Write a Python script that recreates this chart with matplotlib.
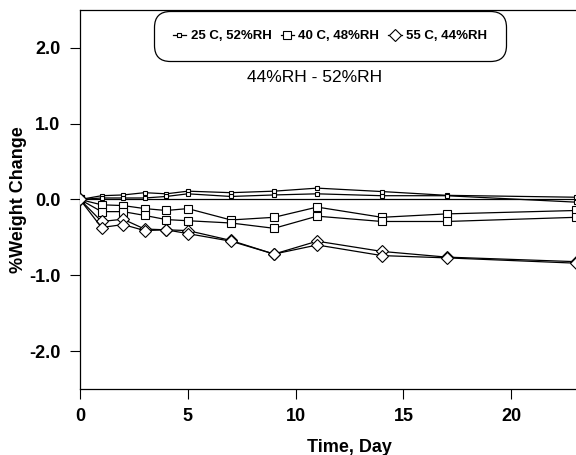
import numpy as np
import matplotlib
matplotlib.use('Agg')
import matplotlib.pyplot as plt

plt.rcParams['font.family'] = ['Liberation Sans', 'DejaVu Sans']

days = [0, 1, 2, 3, 4, 5, 7, 9, 11, 14, 17, 23]

# 25 C, 52%RH (two samples)
c25_a = [0, 0.05, 0.06, 0.09, 0.075, 0.11, 0.09, 0.11, 0.15, 0.105, 0.055, 0.03]
c25_b = [0, 0.02, 0.02, 0.02, 0.04, 0.075, 0.04, 0.06, 0.075, 0.05, 0.05, -0.035]
# 40 C, 48%RH
c40_a = [0, -0.07, -0.08, -0.12, -0.145, -0.12, -0.27, -0.235, -0.10, -0.235, -0.19, -0.145]
c40_b = [0, -0.16, -0.16, -0.21, -0.265, -0.28, -0.31, -0.38, -0.22, -0.29, -0.29, -0.235]
# 55 C, 44%RH
c55_a = [0, -0.29, -0.26, -0.39, -0.40, -0.41, -0.54, -0.72, -0.55, -0.685, -0.76, -0.82]
c55_b = [0, -0.37, -0.33, -0.41, -0.40, -0.45, -0.55, -0.72, -0.60, -0.74, -0.77, -0.84]

labels = ['25 C, 52%RH', '40 C, 48%RH', '55 C, 44%RH']
yticks = [-2.0, -1.0, 0.0, 1.0, 2.0]
xticks = [0, 5, 10, 15, 20]

fig = plt.figure(figsize=(5.76, 4.55), dpi=100)
ax = fig.add_axes([80/576, 66/455, 539/576, 379/455])

ax.axhline(0, color='black', lw=0.9, zorder=1)

mk = dict(color='black', lw=0.9, mfc='white', mec='black', mew=0.8, zorder=3)
ax.plot(days, c25_a, marker='s', ms=3.2, label=labels[0], **mk)
ax.plot(days, c25_b, marker='s', ms=3.2, **mk)
ax.plot(days, c40_a, marker='s', ms=5.5, label=labels[1], **mk)
ax.plot(days, c40_b, marker='s', ms=5.5, **mk)
ax.plot(days, c55_a, marker='D', ms=6, label=labels[2], **mk)
ax.plot(days, c55_b, marker='D', ms=6, **mk)

ax.set_xlim(0, 25)
ax.set_ylim(-2.5, 2.5)
ax.set_xticks(xticks)
ax.set_yticks(yticks)
ax.set_yticklabels(['%.1f' % v for v in yticks])
ax.tick_params(direction='out', length=7, width=0.8, labelsize=13, pad=7)
for lab in ax.get_xticklabels() + ax.get_yticklabels():
    lab.set_fontweight('bold')
ax.spines['right'].set_visible(False)
for s in ['left', 'bottom', 'top']:
    ax.spines[s].set_linewidth(0.9)

ax.set_xlabel('Time, Day', fontsize=13, fontweight='bold', labelpad=10)
ax.set_ylabel('%Weight Change', fontsize=13, fontweight='bold')
ax.yaxis.set_label_coords(-53/539, 0.5)

fig.text(315/576, 1 - 78/455, '44%RH - 52%RH', fontsize=12.5, ha='center', va='center')

leg = fig.legend(loc='center', bbox_to_anchor=(330/576, 1 - 36/455), ncol=3,
                 prop={'weight': 'bold', 'size': 9.5}, handlelength=1.0,
                 handletextpad=0.35, columnspacing=0.7, borderpad=1.2,
                 fancybox=True, framealpha=1, edgecolor='black')
leg.get_frame().set_boxstyle('round,pad=0.2,rounding_size=1.2')
leg.get_frame().set_linewidth(0.9)

fig.savefig('out.png', dpi=100)
